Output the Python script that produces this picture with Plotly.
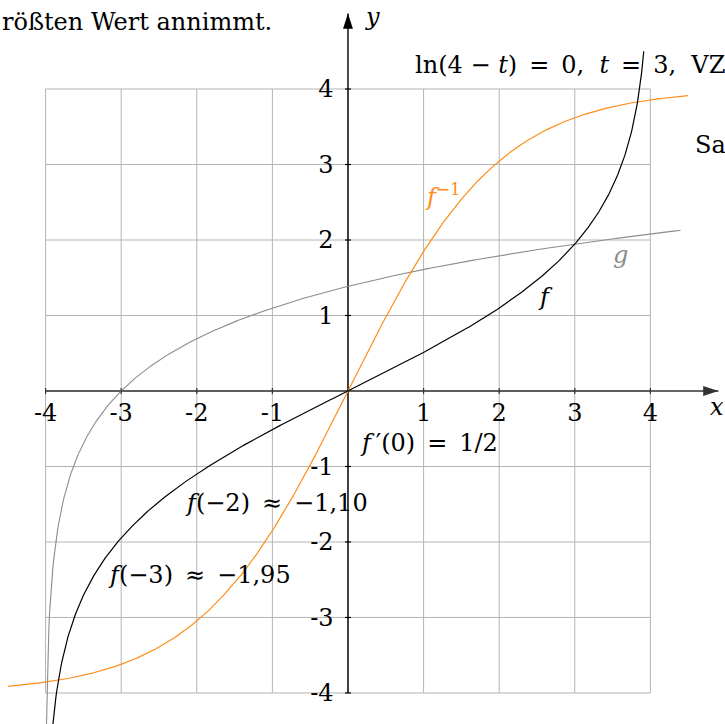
import numpy as np
import plotly.graph_objects as go

# Axis ticks and grid extent
ticks = [-4, -3, -2, -1, 0, 1, 2, 3, 4]
labelled_ticks = [-4, -3, -2, -1, 1, 2, 3, 4]
x_tick_labels = ["-4", "-3", "-2", "-1", "1", "2", "3", "4"]
y_tick_labels = ["-4", "-3", "-2", "-1", "1", "2", "3", "4"]

# Functions that are graphed
def f(x):
    return np.log((4 + x) / (4 - x))

def f_inv(x):
    return 4 * np.tanh(x / 2)

def g(x):
    return np.log(x + 4)

x_inv = np.linspace(-4.5, 4.5, 500)
x_f = np.linspace(-4 * np.tanh(2.25), 4 * np.tanh(2.25), 800)
x_g = np.linspace(-3.988, 4.4, 800)

FONT = "DejaVu Serif"
FS = 24
ORANGE = "#ff8c1a"
GRAY = "#8c8c8c"
GRID = "#b4b4b4"
EN = "\u2002"   # wider space around relation signs
TH = "\u2009"

fig = go.Figure()

# grid lines
shapes = []
for t in ticks:
    shapes.append(dict(type="line", x0=t, x1=t, y0=-4, y1=4, xref="x", yref="y",
                       line=dict(color=GRID, width=1), layer="below"))
    shapes.append(dict(type="line", x0=-4, x1=4, y0=t, y1=t, xref="x", yref="y",
                       line=dict(color=GRID, width=1), layer="below"))
# small tick marks on the axes
for t in labelled_ticks:
    shapes.append(dict(type="line", x0=t, x1=t, y0=-0.04, y1=0.04, xref="x", yref="y",
                       line=dict(color="#333333", width=1.2)))
    shapes.append(dict(type="line", x0=-0.04, x1=0.04, y0=t, y1=t, xref="x", yref="y",
                       line=dict(color="black", width=1.2)))

# coordinate axes
fig.add_trace(go.Scatter(x=[-4, 4.9], y=[0, 0], mode="lines",
                         line=dict(color="#333333", width=1.5), hoverinfo="skip"))
fig.add_trace(go.Scatter(x=[0, 0], y=[-4, 5.0], mode="lines",
                         line=dict(color="black", width=1.4), hoverinfo="skip"))
fig.add_trace(go.Scatter(x=[4.9, 0], y=[0, 5.0], mode="markers",
                         marker=dict(symbol="arrow", size=16, angle=[90, 0],
                                     color=["#333333", "black"], line=dict(width=0)),
                         hoverinfo="skip"))

fig.add_trace(go.Scatter(x=x_g, y=g(x_g), mode="lines",
                         line=dict(color=GRAY, width=1.1), hoverinfo="skip"))
fig.add_trace(go.Scatter(x=x_inv, y=f_inv(x_inv), mode="lines",
                         line=dict(color=ORANGE, width=1.2), hoverinfo="skip"))
fig.add_trace(go.Scatter(x=x_f, y=f(x_f), mode="lines",
                         line=dict(color="black", width=1.2), hoverinfo="skip"))

# tick labels
fig.add_trace(go.Scatter(x=labelled_ticks, y=[-0.32] * len(labelled_ticks), mode="text",
                         text=x_tick_labels, textposition="middle center",
                         textfont=dict(family=FONT, size=FS, color="black"),
                         hoverinfo="skip"))
fig.add_trace(go.Scatter(x=[-0.19] * len(labelled_ticks),
                         y=[t - 0.03 for t in labelled_ticks], mode="text",
                         text=y_tick_labels, textposition="middle left",
                         textfont=dict(family=FONT, size=FS, color="black"),
                         hoverinfo="skip"))

annotations = []

def label(x, y, text, color="black", xanchor="center"):
    annotations.append(dict(x=x, y=y, xref="x", yref="y", text=text, showarrow=False,
                            xanchor=xanchor, yanchor="middle",
                            font=dict(family=FONT, size=FS, color=color)))

label(4.88, -0.21, "<i>x</i>")
label(0.32, 4.95, "<i>y</i>")
label(1.26, 2.6, "<i>f</i><sup>−1</sup>", ORANGE)
label(3.6, 1.8, "<i>g</i>", GRAY)
label(2.61, 1.245, "<i>f</i>")
label(0.13, -0.69, f"<i>f</i>{TH}′(0){EN}={EN}1/2", xanchor="left")
label(-2.18, -1.48, f"<i>f</i>(−2){EN}≈{EN}−1,10", xanchor="left")
label(-3.2, -2.44, f"<i>f</i>(−3){EN}≈{EN}−1,95", xanchor="left")
label(0.86, 4.32, f"ln(4 − <i>t</i>){EN}={EN}0,  <i>t</i>{EN}={EN}3,  VZW", xanchor="left")
label(4.57, 3.26, "Sa", xanchor="left")
label(-4.603, 4.89, "rößten Wert annimmt.", xanchor="left")

fig.update_layout(
    width=725, height=724,
    margin=dict(l=0, r=0, t=0, b=0),
    paper_bgcolor="white", plot_bgcolor="white",
    showlegend=False,
    shapes=shapes,
    annotations=annotations,
    xaxis=dict(range=[-4.603, 4.987], showgrid=False, zeroline=False,
               showticklabels=False, ticks="", fixedrange=True),
    yaxis=dict(range=[-4.411, 5.179], showgrid=False, zeroline=False,
               showticklabels=False, ticks="", fixedrange=True),
)

fig.write_html("out.html")
